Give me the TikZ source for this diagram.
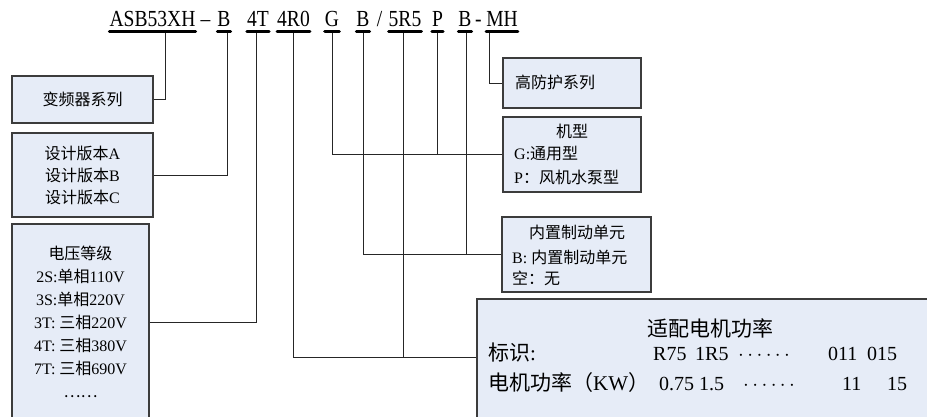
\documentclass[tikz,border=0pt]{standalone}
\usepackage{fontspec}
\setmainfont{Liberation Serif}
\newfontfamily\cjkfont{Noto Sans CJK SC}
\newfontfamily\codefont[FakeStretch=0.85]{Liberation Serif}
\newcommand\zh[1]{{\cjkfont #1}}
\newcommand\middots{\(\cdots\cdots\)}
\definecolor{panelfill}{RGB}{230,236,247}
\definecolor{panelline}{RGB}{60,60,60}
\begin{document}
\begin{tikzpicture}[x=1pt, y=-1pt,
  panel/.style={draw=panelline, fill=panelfill, line width=1.2pt, inner sep=0pt},
  code/.style={font={\codefont\fontsize{23}{23}\selectfont}, inner sep=0pt, anchor=base},
  uline/.style={line width=3pt, line cap=round},
  wire/.style={line width=0.9pt, draw=black!85},
  txt/.style={inner sep=0pt, anchor=base west, font={\fontsize{16}{16}\selectfont}},
  cell/.style={inner sep=0pt, anchor=base west, font={\fontsize{20}{20}\selectfont}}]

  \newcommand\codey{27};
  \newcommand\rowa{360};
  \newcommand\rowb{390};

  \fill[white] (0,0) rectangle (927,417);
  \useasboundingbox (0,0) rectangle (927,417);
  \clip (0,0) rectangle (927,417);

  %% type code
  \foreach \nm/\xx/\lbl in {asb/152.5/ASB53XH, b1/224/B, t4/258/4T, r40/293.5/4R0, g/332/G,
      b2/363/B, r55/405/5R5, p/437.5/P, b3/465/B, mh/502/MH}
    \node[code] (\nm) at (\xx,\codey) {\lbl};
  \node[code] (dash) at (205.5,\codey) {–};
  \node[code] (slash) at (379.5,\codey) {/};
  \node[code] (hyph) at (478.5,\codey) {-};

  %% boxes
  \node[panel, minimum width=141pt, minimum height=47pt, font={\fontsize{16}{16}\selectfont}]
    (sys) at (82.5,99.5) {\zh{变频器系列}};
  \node[panel, minimum width=141pt, minimum height=84pt, align=center, font={\fontsize{16}{22}\selectfont}]
    (ver) at (82.5,175) {\zh{设计版本}A\\\zh{设计版本}B\\\zh{设计版本}C};
  \node[panel, minimum width=137pt, minimum height=196pt, align=center, font={\fontsize{16}{23}\selectfont}]
    (volt) at (80.5,322) {\zh{电压等级}\\2S:\zh{单相}110V\\3S:\zh{单相}220V\\3T: \zh{三相}220V\\
      4T: \zh{三相}380V\\7T: \zh{三相}690V\\\zh{……}};

  \node[panel, minimum width=138pt, minimum height=50pt] (mhbox) at (572,83) {};
  \node[txt] (mhtxt) at (515,89) {\zh{高防护系列}};

  \node[panel, minimum width=138pt, minimum height=75pt] (type) at (572,154.5) {};
  \node[txt, anchor=base] (typetitle) at (572,138) {\zh{机型}};
  \node[txt] (typeg) at (514,160) {G:\zh{通用型}};
  \node[txt] (typep) at (514,183) {P\zh{：风机水泵型}};

  \node[panel, minimum width=149pt, minimum height=75pt] (brake) at (576.5,254.5) {};
  \node[txt, anchor=base] (braketitle) at (577,238) {\zh{内置制动单元}};
  \node[txt] (brakeb) at (512,263) {B: \zh{内置制动单元}};
  \node[txt] (brakenone) at (512,284) {\zh{空：无}};

  \node[panel, minimum width=468pt, minimum height=141pt] (power) at (711,369.5) {};
  \node[cell, anchor=base, font={\fontsize{21}{21}\selectfont}] (powertitle) at (710,336) {\zh{适配电机功率}};
  \node[cell, font={\fontsize{21}{21}\selectfont}] (idlabel) at (488,\rowa) {\zh{标识}:};
  \node[cell, font={\fontsize{21}{21}\selectfont}] (kwlabel) at (488,\rowb) {\zh{电机功率（}KW\zh{）}};
  \foreach \xx/\lbl in {653/R75, 695/1R5, 738/\middots, 828/011, 867/015}
    \node[cell] (id\xx) at (\xx,\rowa) {\lbl};
  \foreach \xx/\lbl in {659/0.75, 699/1.5, 743/\middots, 842/11, 887/15}
    \node[cell] (kw\xx) at (\xx,\rowb) {\lbl};
  \coordinate (pin) at ([yshift=-59pt]power.north west);

  %% connectors
  \draw[wire] (sys.east) -| ([xshift=12.5pt,yshift=-5pt]asb.base);
  \draw[wire] (ver.east) -| ([xshift=3pt,yshift=-5pt]b1.base);
  \draw[wire] (volt.east) -| ([xshift=-2pt,yshift=-5pt]t4.base);
  \draw[wire] ([yshift=-5pt]r40.base) |- (pin); %% 4R0->power
  \draw[wire] ([xshift=-2pt,yshift=-5pt]r55.base) -- ([xshift=-2pt]r55.base |- pin);
  \draw[wire] ([yshift=-5pt]g.base) |- (type.west); %% G->type
  \draw[wire] ([yshift=-5pt]p.base) -- (p.base |- type.west);
  \draw[wire] ([yshift=-5pt]b2.base) |- (brake.west); %% B->brake
  \draw[wire] ([xshift=1pt,yshift=-5pt]b3.base) -- ([xshift=1pt]b3.base |- brake.west);
  \draw[wire] ([xshift=-13pt,yshift=-5pt]mh.base) |- (mhbox.west);

  \foreach \nm in {asb, b1, t4, r40, g, b2, r55, p, b3, mh}
    \draw[uline] ([yshift=-5pt]\nm.base west) -- ([yshift=-5pt]\nm.base east);
\end{tikzpicture}
\end{document}
